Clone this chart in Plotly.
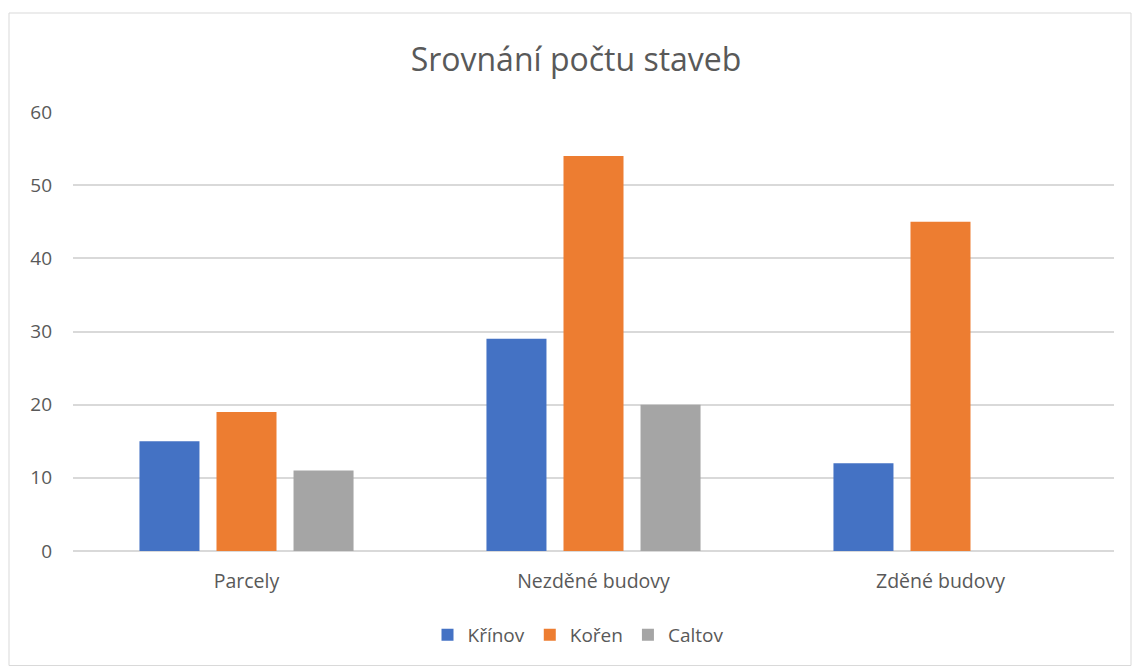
import plotly.graph_objects as go

categories = ["Parcely", "Nezděné budovy", "Zděné budovy"]
krinov = [15, 29, 12]
koren = [19, 54, 45]
caltov = [11, 20, 0]
series_names = ["Křínov", "Kořen", "Caltov"]
colors = ["#4472C4", "#ED7D31", "#A5A5A5"]

fig = go.Figure()
for name, vals, col in zip(series_names, [krinov, koren, caltov], colors):
    fig.add_trace(go.Bar(name=name, x=categories, y=vals, marker=dict(color=col, line=dict(width=0))))

W, H = 1132, 666
L, R, T, B = 73, 18, 112, 115
pw, ph = W - L - R, H - T - B

def px(x):
    return (x - L) / pw

def py(y):
    return (H - B - y) / ph

fig.update_layout(
    width=W, height=H,
    margin=dict(l=L, r=R, t=T, b=B),
    paper_bgcolor="white", plot_bgcolor="white",
    barmode="group", bargap=0.334, bargroupgap=0.221,
    font=dict(family="Open Sans, Liberation Sans, sans-serif", color="#595959", size=19),
    title=dict(text="Srovnání počtu staveb", x=576 / W, xanchor="center", y=1 - 60 / H, yanchor="middle",
               font=dict(size=32, color="#595959")),
    legend=dict(orientation="h", x=px(578), xanchor="center", y=py(635), yanchor="middle",
                font=dict(size=19, color="#595959"), itemwidth=30, traceorder="normal"),
    xaxis=dict(showgrid=False, showline=False, ticks="", ticklabelstandoff=16,
               tickfont=dict(size=19.5, color="#595959")),
    yaxis=dict(range=[0, 60], dtick=10, showgrid=True, gridcolor="#D9D9D9", gridwidth=1.5,
               zeroline=True, zerolinecolor="#D9D9D9", zerolinewidth=1.5,
               showline=False, ticks="", ticklabelstandoff=20,
               tickfont=dict(size=19, color="#595959")),
    shapes=[dict(type="rect", xref="paper", yref="paper",
                 x0=px(9), x1=px(1131), y0=py(665.5), y1=py(13),
                 line=dict(color="#D9D9D9", width=1), fillcolor="rgba(0,0,0,0)", layer="below")],
)

fig.write_html("out.html")
